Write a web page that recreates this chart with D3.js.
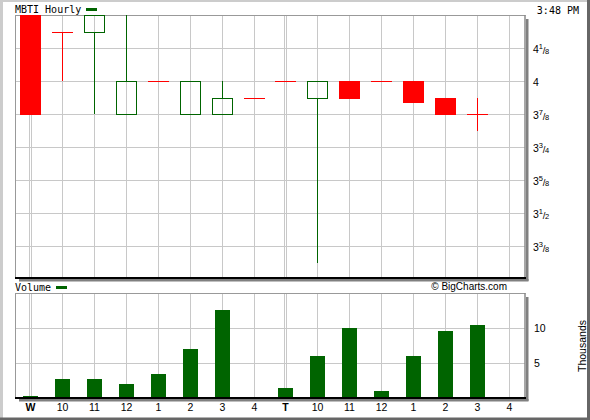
<!DOCTYPE html>
<html><head><meta charset="utf-8">
<script src="https://cdn.jsdelivr.net/npm/d3@7"></script>
<style>html,body{margin:0;padding:0;background:#fff;}svg{display:block;}</style>
</head><body>
<script>
// ---- data ----
const labels = ["W","10","11","12","1","2","3","4","T","10","11","12","1","2","3","4"];
const boldLabels = ["W","T"];
const opens  = [4.25, 4.1875, 4.1875, 3.875, 4.0, 3.875, 3.875, 3.9375, 4.0, 3.9375, 4.0, 4.0, 4.0, 3.9375, 3.875, null];
const highs  = [4.25, 4.1875, 4.25,   4.25,  4.0, 4.0,   4.0,   3.9375, 4.0, 4.0,    4.0, 4.0, 4.0, 3.9375, 3.9375, null];
const lows   = [3.875,4.0,    3.875,  3.875, 4.0, 3.875, 3.875, 3.9375, 4.0, 3.3125, 3.9375, 4.0, 3.92, 3.875, 3.8125, null];
const closes = [3.875,4.1875, 4.25,   4.0,   4.0, 4.0,   3.9375,3.9375, 4.0, 4.0,    3.9375, 4.0, 3.92, 3.875, 3.875, null];
const volumes = [0.3, 2.75, 2.75, 2.0, 3.45, 7.0, 12.55, 0, 1.45, 6.0, 10.0, 1.0, 6.0, 9.6, 10.45, 0];
const priceTicks = [4.125, 4.0, 3.875, 3.75, 3.625, 3.5, 3.375];
const priceTickLabels = ["4 1/8","4","3 7/8","3 3/4","3 5/8","3 1/2","3 3/8"];
const volTicks = [5, 10];
const volTickLabels = ["5","10"];
const dayStarts = [0, 8];

const W = 590, H = 420;
const GREEN = "#006400", RED = "#ff0000", GRID = "#c8c8c8", BORDER = "#999999";
const PL = 15, PR = 525, PT = 15, PB = 278, VT = 293, VB = 398;

const svg = d3.select("body").append("svg").attr("width", W).attr("height", H);

// outer frame
svg.append("rect").attr("x",0).attr("y",0).attr("width",W).attr("height",H).attr("fill","#fff");
svg.append("rect").attr("x",0).attr("y",0).attr("width",W).attr("height",2).attr("fill","#cccccc");
svg.append("rect").attr("x",0).attr("y",0).attr("width",3).attr("height",H).attr("fill","#cccccc");
svg.append("rect").attr("x",0).attr("y",H-2.5).attr("width",W).attr("height",2.5).attr("fill","#666666");
svg.append("rect").attr("x",W-3).attr("y",0).attr("width",3).attr("height",H).attr("fill","#666666");

// scales
const x = d3.scaleLinear().domain([0, 15]).range([30.5, 509.5]);
const xs = i => Math.floor(x(i)) + 0.5;
const y = d3.scaleLinear().domain([4.25, 3.25]).range([PT, PT + 264]);
const yv = d3.scaleLinear().domain([0, 15]).range([VB, VB - 105]);

function panel(top, bottom, hTicks, yfn) {
  const g = svg.append("g");
  // shadow
  g.append("rect").attr("x", PR+1).attr("y", top+4).attr("width", 2.5).attr("height", bottom-top-1).attr("fill", "#808080");
  g.append("rect").attr("x", PL+4).attr("y", bottom+1).attr("width", PR-PL-0.5).attr("height", 2.5).attr("fill", "#808080");
  // grid
  labels.forEach((l, i) => {
    const cx = xs(i);
    const pos = dayStarts.includes(i) ? [cx-1, cx+1] : [cx];
    pos.forEach(px => g.append("line").attr("x1", px).attr("x2", px).attr("y1", top).attr("y2", bottom)
      .attr("stroke", GRID).attr("stroke-width", 1));
  });
  hTicks.forEach(t => {
    const py = Math.round(yfn(t)) + 0.5;
    g.append("line").attr("x1", PL).attr("x2", PR).attr("y1", py).attr("y2", py)
      .attr("stroke", GRID).attr("stroke-width", 1);
  });
  // border
  g.append("line").attr("x1", PL).attr("x2", PR+0.5).attr("y1", top+0.5).attr("y2", top+0.5).attr("stroke", BORDER);
  g.append("line").attr("x1", PL+0.5).attr("x2", PL+0.5).attr("y1", top).attr("y2", bottom).attr("stroke", BORDER);
  g.append("line").attr("x1", PR).attr("x2", PR).attr("y1", top).attr("y2", bottom).attr("stroke", "#8a8a8a").attr("stroke-width", 1.5);
  return g;
}

// ---- price panel ----
panel(PT, PB, priceTicks, y);
const cg = svg.append("g");
svg.append("defs").append("clipPath").attr("id","pclip").append("rect")
  .attr("x",PL).attr("y",PT).attr("width",PR-PL).attr("height",PB-PT);
cg.attr("clip-path","url(#pclip)");
labels.forEach((l, i) => {
  const o = opens[i], h = highs[i], lo = lows[i], c = closes[i];
  if (o === null) return;
  const cx = xs(i);
  const up = c > o;
  const col = up ? GREEN : RED;
  const yTop = Math.round(y(Math.max(o, c))), yBot = Math.round(y(Math.min(o, c)));
  // wicks
  if (h > Math.max(o, c)) cg.append("line").attr("x1", cx).attr("x2", cx)
    .attr("y1", Math.round(y(h))).attr("y2", yTop).attr("stroke", col);
  if (lo < Math.min(o, c)) cg.append("line").attr("x1", cx).attr("x2", cx)
    .attr("y1", yBot).attr("y2", Math.round(y(lo))).attr("stroke", col);
  if (yBot === yTop) {
    cg.append("line").attr("x1", cx-10.5).attr("x2", cx+10.5).attr("y1", yTop+0.5).attr("y2", yTop+0.5).attr("stroke", col);
  } else if (up) {
    cg.append("rect").attr("x", cx-10).attr("y", yTop+0.5).attr("width", 20).attr("height", yBot-yTop)
      .attr("fill", "none").attr("stroke", col).attr("stroke-width", 1);
  } else {
    cg.append("rect").attr("x", cx-10.5).attr("y", yTop).attr("width", 21).attr("height", yBot-yTop+1).attr("fill", col);
  }
});
svg.append("line").attr("x1", PL).attr("x2", PR+1).attr("y1", PB).attr("y2", PB).attr("stroke", "#000").attr("stroke-width", 2);

// price tick labels (fractions)
priceTicks.forEach((t, k) => {
  const parts = priceTickLabels[k].split(" ");
  const txt = svg.append("text").attr("x", 533).attr("y", Math.round(y(t)) + 4.5)
    .attr("font-family", "Liberation Sans, Arial, sans-serif").attr("font-size", 10.5).attr("fill", "#000");
  txt.append("tspan").text(parts[0]);
  if (parts[1]) {
    const [n, d] = parts[1].split("/");
    txt.append("tspan").attr("font-size", 7.5).attr("dy", -4).attr("dx", 0).text(n);
    txt.append("tspan").attr("font-size", 9.5).attr("dy", 5).attr("dx", -0.3).text("/");
    txt.append("tspan").attr("font-size", 7.5).attr("dy", 0.5).attr("dx", -0.3).text(d);
  }
});

// ---- volume panel ----
panel(VT, VB, volTicks, yv);
svg.append("g").selectAll("rect").data(volumes).join("rect")
  .attr("x", (d, i) => xs(i) - 7.5)
  .attr("y", d => Math.round(yv(d)))
  .attr("width", 15)
  .attr("height", d => VB - Math.round(yv(d)))
  .attr("fill", GREEN);
svg.append("line").attr("x1", PL).attr("x2", PR+1).attr("y1", VB).attr("y2", VB).attr("stroke", "#000").attr("stroke-width", 2);

volTicks.forEach((t, k) => {
  svg.append("text").attr("x", 534).attr("y", Math.round(yv(t)) + 4)
    .attr("font-family", "Liberation Sans, Arial, sans-serif").attr("font-size", 10.5).text(volTickLabels[k]);
});

// x labels
labels.forEach((l, i) => {
  svg.append("text").attr("x", xs(i)).attr("y", 411).attr("text-anchor", "middle")
    .attr("font-family", "Liberation Sans, Arial, sans-serif").attr("font-size", 10.5)
    .attr("font-weight", boldLabels.includes(l) && (i === 0 || i === 8) ? "bold" : "normal")
    .text(l);
});

// titles and legends
const mono = "DejaVu Sans Mono, monospace";
svg.append("text").attr("x", 15).attr("y", 13).attr("font-family", mono).attr("font-size", 10).text("MBTI Hourly");
svg.append("rect").attr("x", 86).attr("y", 8).attr("width", 11).attr("height", 3).attr("fill", GREEN);
svg.append("text").attr("x", 579).attr("y", 14).attr("text-anchor", "end").attr("font-family", mono).attr("font-size", 10).text("3:48 PM");
svg.append("text").attr("x", 15).attr("y", 291).attr("font-family", mono).attr("font-size", 10).text("Volume");
svg.append("rect").attr("x", 56).attr("y", 286).attr("width", 11).attr("height", 3).attr("fill", GREEN);
svg.append("text").attr("x", 507).attr("y", 290).attr("text-anchor", "end")
  .attr("font-family", "Liberation Sans, Arial, sans-serif").attr("font-size", 10).text("© BigCharts.com");
svg.append("text").attr("transform", "translate(586,346) rotate(-90)").attr("text-anchor", "middle")
  .attr("font-family", "Liberation Sans, Arial, sans-serif").attr("font-size", 10.5).text("Thousands");
</script>
</body></html>
